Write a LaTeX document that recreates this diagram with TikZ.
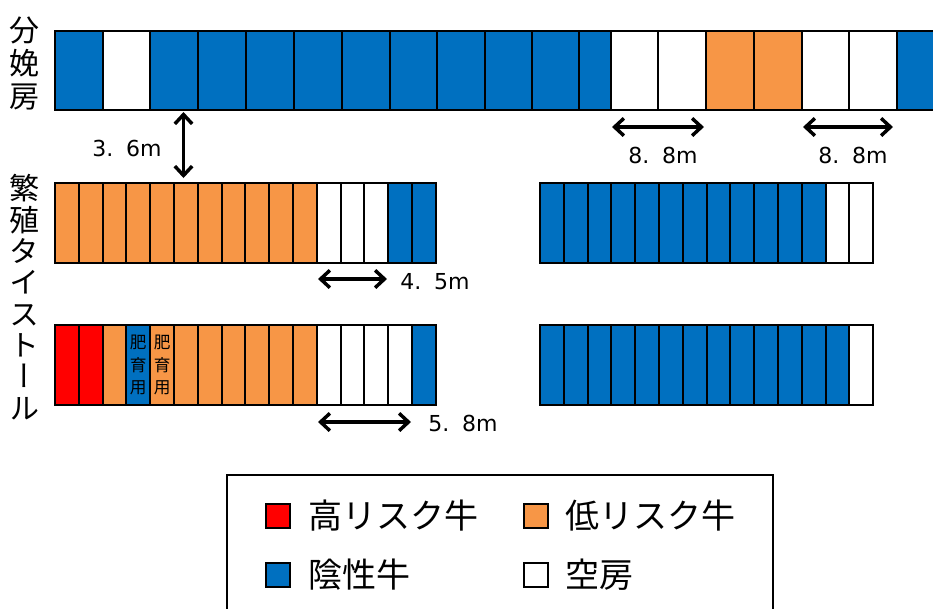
\documentclass[tikz,border=0pt]{standalone}
\usepackage{fontspec}
\usetikzlibrary{arrows.meta}
\newfontfamily\cjk{Noto Sans CJK JP}
\newfontfamily\cjkv[RawFeature=+vert]{Noto Sans CJK JP}
\newfontfamily\numfont[WordSpace=1.5]{DejaVu Sans}
\definecolor{negblue}{HTML}{0070C0}
\definecolor{loworange}{HTML}{F79646}
\definecolor{highred}{HTML}{FF0000}
\begin{document}
\begin{tikzpicture}[x=.75pt,y=-.75pt,line width=1.5pt,
  every path/.style={>={Straight Barb[length=7pt,width=13pt,line width=2.6pt]}},
  every node/.style={draw,rectangle,inner sep=0pt,outer sep=0pt},
  wide/.style={minimum width=35.8pt,minimum height=59.5pt},
  thin/.style={minimum width=24pt,minimum height=59.5pt},
  small/.style={minimum width=17.85pt,minimum height=60pt},
  blue/.style={fill=negblue},
  orange/.style={fill=loworange},
  red/.style={fill=highred},
  empty/.style={fill=white},
  swatch/.style={minimum width=18pt,minimum height=18pt},
  legendtext/.style={draw=none,anchor=west,font=\cjk\fontsize{25.5}{27}\selectfont},
  dist/.style={draw=none,font=\numfont\fontsize{16.5}{18}\selectfont},
  side/.style={draw=none,align=center},
  inner/.style={small,align=center,font=\cjkv\fontsize{12.5}{17}\selectfont}]
\useasboundingbox (0,0) rectangle (933,608);
% farrowing row
\node[wide,blue]   (t1)  at (79,70.5)    {};
\node[wide,empty]  (t2)  at (126.5,70.5) {};
\node[wide,blue]   (t3)  at (174,70.5)   {};
\node[wide,blue]   (t4)  at (222,70.5)   {};
\node[wide,blue]   (t5)  at (270,70.5)   {};
\node[wide,blue]   (t6)  at (318,70.5)   {};
\node[wide,blue]   (t7)  at (366,70.5)   {};
\node[wide,blue]   (t8)  at (413.5,70.5) {};
\node[wide,blue]   (t9)  at (461,70.5)   {};
\node[wide,blue]   (t10) at (508.5,70.5) {};
\node[wide,blue]   (t11) at (555.5,70.5) {};
\node[thin,blue]   (t12) at (595,70.5)   {};
\node[wide,empty]  (t13) at (634.5,70.5) {};
\node[wide,empty]  (t14) at (682,70.5)   {};
\node[wide,orange] (t15) at (730,70.5)   {};
\node[wide,orange] (t16) at (778,70.5)   {};
\node[wide,empty]  (t17) at (825.5,70.5) {};
\node[wide,empty]  (t18) at (873,70.5)   {};
\node[wide,blue]   (t19) at (921,70.5)   {};
% stalls, upper left
\node[small,orange] (a1)  at (66.9,223)  {};
\node[small,orange] (a2)  at (90.7,223)  {};
\node[small,orange] (a3)  at (114.5,223) {};
\node[small,orange] (a4)  at (138.3,223) {};
\node[small,orange] (a5)  at (162.1,223) {};
\node[small,orange] (a6)  at (185.9,223) {};
\node[small,orange] (a7)  at (209.7,223) {};
\node[small,orange] (a8)  at (233.5,223) {};
\node[small,orange] (a9)  at (257.3,223) {};
\node[small,orange] (a10) at (281.1,223) {};
\node[small,orange] (a11) at (304.9,223) {};
\node[small,empty]  (a12) at (328.7,223) {};
\node[small,empty]  (a13) at (352.5,223) {};
\node[small,empty]  (a14) at (376.3,223) {};
\node[small,blue]   (a15) at (400.1,223) {};
\node[small,blue]   (a16) at (423.9,223) {};
% stalls, lower left
\node[small,red]    (b1)  at (66.9,365)  {};
\node[small,red]    (b2)  at (90.7,365)  {};
\node[small,orange] (b3)  at (114.5,365) {};
\node[inner,blue]   (b4)  at (138.3,365) {肥\\育\\用};
\node[inner,orange] (b5)  at (162.1,365) {肥\\育\\用};
\node[small,orange] (b6)  at (185.9,365) {};
\node[small,orange] (b7)  at (209.7,365) {};
\node[small,orange] (b8)  at (233.5,365) {};
\node[small,orange] (b9)  at (257.3,365) {};
\node[small,orange] (b10) at (281.1,365) {};
\node[small,orange] (b11) at (304.9,365) {};
\node[small,empty]  (b12) at (328.7,365) {};
\node[small,empty]  (b13) at (352.5,365) {};
\node[small,empty]  (b14) at (376.3,365) {};
\node[small,empty]  (b15) at (400.1,365) {};
\node[small,blue]   (b16) at (423.9,365) {};
% stalls, upper right
\node[small,blue]  (c1)  at (551.9,223) {};
\node[small,blue]  (c2)  at (575.7,223) {};
\node[small,blue]  (c3)  at (599.5,223) {};
\node[small,blue]  (c4)  at (623.3,223) {};
\node[small,blue]  (c5)  at (647.1,223) {};
\node[small,blue]  (c6)  at (670.9,223) {};
\node[small,blue]  (c7)  at (694.7,223) {};
\node[small,blue]  (c8)  at (718.5,223) {};
\node[small,blue]  (c9)  at (742.3,223) {};
\node[small,blue]  (c10) at (766.1,223) {};
\node[small,blue]  (c11) at (789.9,223) {};
\node[small,blue]  (c12) at (813.7,223) {};
\node[small,empty] (c13) at (837.5,223) {};
\node[small,empty] (c14) at (861.3,223) {};
% stalls, lower right
\node[small,blue]  (d1)  at (551.9,365) {};
\node[small,blue]  (d2)  at (575.7,365) {};
\node[small,blue]  (d3)  at (599.5,365) {};
\node[small,blue]  (d4)  at (623.3,365) {};
\node[small,blue]  (d5)  at (647.1,365) {};
\node[small,blue]  (d6)  at (670.9,365) {};
\node[small,blue]  (d7)  at (694.7,365) {};
\node[small,blue]  (d8)  at (718.5,365) {};
\node[small,blue]  (d9)  at (742.3,365) {};
\node[small,blue]  (d10) at (766.1,365) {};
\node[small,blue]  (d11) at (789.9,365) {};
\node[small,blue]  (d12) at (813.7,365) {};
\node[small,blue]  (d13) at (837.5,365) {};
\node[small,empty] (d14) at (861.3,365) {};
% row titles
\node[side,font=\cjkv\fontsize{22.5}{24.75}\selectfont] (farrow) at (25,63)  {分\\娩\\房};
\node[side,font=\cjkv\fontsize{22.5}{23.5}\selectfont]  (stall)  at (25,297) {繁\\殖\\タ\\イ\\ス\\ト\\ー\\ル};
% distances
\coordinate (g1) at (183.5,112);
\coordinate (g2) at (183.5,178);
\coordinate (e1) at (612,127);
\coordinate (e2) at (704,127);
\coordinate (f1) at (803,127);
\coordinate (f2) at (893,127);
\coordinate (h1) at (318,279);
\coordinate (h2) at (387,279);
\coordinate (k1) at (318,422);
\coordinate (k2) at (411,422);
\draw[<->,line width=2.6pt] (g1) -- (g2);
\draw[<->,line width=2.6pt] (e1) -- (e2);
\draw[<->,line width=2.6pt] (f1) -- (f2);
\draw[<->,line width=2.6pt] (h1) -- (h2);
\draw[<->,line width=2.6pt] (k1) -- (k2);
\node[dist] (l36)  at (127,148) {3. 6m};
\node[dist] (l88a) at (663,155) {8. 8m};
\node[dist] (l88b) at (853,155) {8. 8m};
\node[dist] (l45)  at (435,282) {4. 5m};
\node[dist] (l58)  at (463,423) {5. 8m};
% legend
\node[minimum width=409.5pt,minimum height=120pt] (legend) at (500,555) {};
\node[swatch,red]    (s1) at (278,515.5) {};
\node[swatch,orange] (s2) at (535.5,515.5) {};
\node[swatch,blue]   (s3) at (278,574.5) {};
\node[swatch,empty]  (s4) at (535.5,574.5) {};
\node[legendtext] (n1) at (308,516) {高リスク牛};
\node[legendtext] (n2) at (565,516) {低リスク牛};
\node[legendtext] (n3) at (308,575) {陰性牛};
\node[legendtext] (n4) at (565,575) {空房};
\end{tikzpicture}
\end{document}
